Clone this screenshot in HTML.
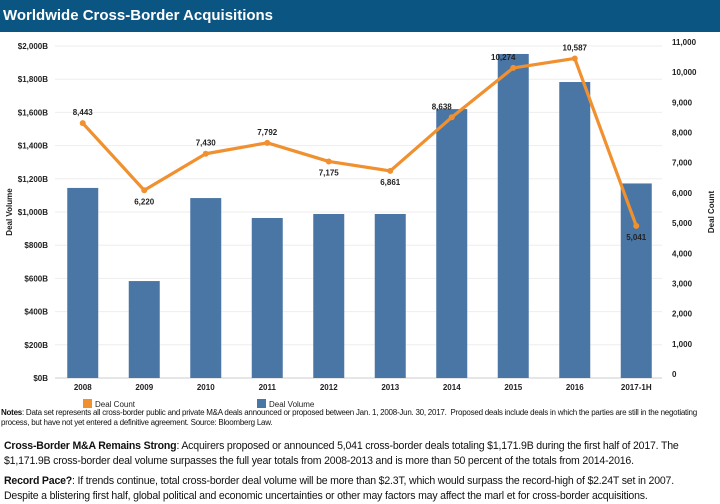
<!DOCTYPE html>
<html><head><meta charset="utf-8"><style>
body{margin:0;width:720px;height:499px;background:#fff;font-family:"Liberation Sans",Arial,sans-serif;overflow:hidden;position:relative}
#title{position:absolute;left:0;top:0;width:720px;height:32px;background:#0b5583;color:#fff;font-weight:bold;font-size:15px;line-height:32px;padding-left:3px;box-sizing:border-box}
svg{position:absolute;left:0;top:0}
.notes{position:absolute;left:1px;top:408px;font-size:8px;line-height:10px;letter-spacing:-0.25px;color:#111;width:718px}
.p{position:absolute;left:4px;font-size:11.4px;line-height:15px;letter-spacing:-0.2px;color:#111;width:770px;transform:scaleX(0.925);transform-origin:0 0}
</style></head><body>
<div id="title">Worldwide Cross-Border Acquisitions</div>
<svg id="chart" width="720" height="420"></svg>
<div class="notes"><b>Notes</b>: Data set represents all cross-border public and private M&amp;A deals announced or proposed between Jan. 1, 2008-Jun. 30, 2017.&nbsp; Proposed deals include deals in which the parties are still in the negotiating process, but have not yet entered a definitive agreement. Source: Bloomberg Law.</div>
<div class="p" style="top:439px"><b>Cross-Border M&amp;A Remains Strong</b>: Acquirers proposed or announced 5,041 cross-border deals totaling $1,171.9B during the first half of 2017. The $1,171.9B cross-border deal volume surpasses the full year totals from 2008-2013 and is more than 50 percent of the totals from 2014-2016.</div>
<div class="p" style="top:474px"><b>Record Pace?</b>: If trends continue, total cross-border deal volume will be more than $2.3T, which would surpass the record-high of $2.24T set in 2007.<br>Despite a blistering first half, global political and economic uncertainties or other may factors may affect the marl et for cross-border acquisitions.</div>
<script>
const categories=["2008","2009","2010","2011","2012","2013","2014","2015","2016","2017-1H"];
const dealVolume=[1145,584,1084,964,988,988,1620,1952,1783,1172];
const dealCount=[8443,6220,7430,7792,7175,6861,8638,10274,10587,5041];
const leftTicks=[0,200,400,600,800,1000,1200,1400,1600,1800,2000];
const rightTicks=[0,1000,2000,3000,4000,5000,6000,7000,8000,9000,10000,11000];
const NS="http://www.w3.org/2000/svg";
const svg=document.getElementById('chart');
const X0=52,BAND=61.5,Y0=378,Y1=46;
const yL=v=>Y0-(v/2000)*(Y0-Y1);
const yR=v=>Y0-(v/11000)*(Y0-Y1);
const xc=i=>X0+BAND*(i+0.5);
function mk(tag,attrs){const e=document.createElementNS(NS,tag);for(const k in attrs)e.setAttribute(k,attrs[k]);svg.appendChild(e);return e;}
leftTicks.forEach(t=>{
 const g=mk('line',{x1:55,x2:662,y1:yL(t),y2:yL(t),stroke:t==0?'#ccc':'#eee','stroke-width':1});
 
 
 const tx=mk('text',{x:48,y:yL(t)+3,'text-anchor':'end','font-size':8,'font-weight':'bold',fill:'#222'});
 tx.textContent='$'+t.toLocaleString('en-US')+'B';
 
 
});
rightTicks.forEach(t=>{
 const tx=mk('text',{x:672,y:yR(t)-1,'font-size':8,'font-weight':'bold',fill:'#222'});
 tx.textContent=t.toLocaleString('en-US');
 
 
});
categories.forEach((c,i)=>{
 const r=mk('rect',{x:xc(i)-15.5,y:yL(dealVolume[i]),width:31,height:Y0-yL(dealVolume[i]),fill:'#4a76a6'});
 
 
 const tx=mk('text',{x:xc(i),y:390,'text-anchor':'middle','font-size':8,'font-weight':'bold',fill:'#222'});
 tx.textContent=c;
 
 
});
const pts=dealCount.map((v,i)=>xc(i)+','+yR(v)).join(' ');
const pl=mk('polyline',{points:pts,fill:'none',stroke:'#f0902e','stroke-width':3.2,'stroke-linejoin':'round'});


const below=[false,true,false,false,true,true,false,false,false,true];
dealCount.forEach((v,i)=>{
 const c=mk('circle',{cx:xc(i),cy:yR(v),r:3,fill:'#f0902e'});
 
 
 const tx=mk('text',{x:xc(i)-(i==6||i==7?10:0),y:below[i]?yR(v)+14:yR(v)-8,'text-anchor':'middle','font-size':8,'font-weight':'bold',fill:'#222'});
 tx.textContent=v.toLocaleString('en-US');
 
 
});
let t=mk('text',{x:0,y:0,transform:'translate(12,212) rotate(-90)','text-anchor':'middle','font-size':8,'font-weight':'bold',fill:'#222'});
t.textContent='Deal Volume';


t=mk('text',{x:0,y:0,transform:'translate(714,212) rotate(-90)','text-anchor':'middle','font-size':8,'font-weight':'bold',fill:'#222'});
t.textContent='Deal Count';


let r=mk('rect',{x:83,y:399,width:9,height:9,fill:'#f0902e'});


t=mk('text',{x:95,y:407,'font-size':8,fill:'#222'});t.textContent='Deal Count';


r=mk('rect',{x:257,y:399,width:9,height:9,fill:'#4a76a6'});


t=mk('text',{x:269,y:407,'font-size':8,fill:'#222'});t.textContent='Deal Volume';


</script>
</body></html>
